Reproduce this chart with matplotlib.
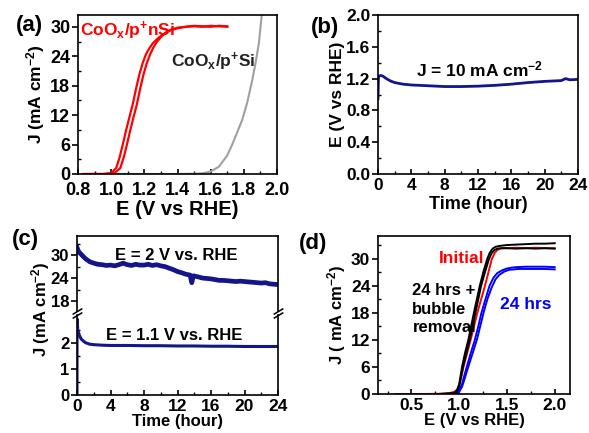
import numpy as np
import matplotlib
matplotlib.use('Agg')
import matplotlib.pyplot as plt
from matplotlib.ticker import MultipleLocator, FixedLocator

plt.rcParams['font.family'] = ['Liberation Sans', 'DejaVu Sans']
plt.rcParams['font.weight'] = 'bold'
plt.rcParams['axes.labelweight'] = 'bold'
plt.rcParams['mathtext.fontset'] = 'custom'
plt.rcParams['mathtext.rm'] = 'Liberation Sans:bold'
plt.rcParams['mathtext.it'] = 'Liberation Sans:bold'
plt.rcParams['mathtext.bf'] = 'Liberation Sans:bold'
plt.rcParams['mathtext.default'] = 'rm'
plt.rcParams['font.size'] = 12
plt.rcParams['axes.linewidth'] = 1.2

# (a) LSV curves
a_nsi_E1 = [0.83, 0.95, 1.0, 1.03, 1.05, 1.07, 1.09, 1.11, 1.13, 1.15, 1.17, 1.19, 1.21, 1.23,
            1.25, 1.28, 1.31, 1.35, 1.4, 1.45, 1.5, 1.55, 1.6, 1.65, 1.7]
a_nsi_J1 = [0, 0, 0.2, 1.2, 3.3, 6.0, 8.9, 11.6, 14.2, 17.4, 20.3, 22.6, 24.4, 25.6,
            26.6, 27.6, 28.4, 29.2, 29.7, 30.0, 30.1, 30.0, 30.2, 30.1, 30.0]
a_nsi_E2 = [0.85, 0.97, 1.02, 1.055, 1.075, 1.095, 1.115, 1.135, 1.155, 1.175, 1.195, 1.215,
            1.235, 1.255, 1.275, 1.3, 1.33, 1.36, 1.4, 1.45, 1.5, 1.55, 1.6, 1.65, 1.7]
a_nsi_J2 = [0, 0, 0.2, 1.2, 3.3, 6.0, 8.9, 11.6, 14.2, 17.4, 20.3, 22.6,
            24.4, 25.8, 26.9, 27.9, 28.8, 29.4, 29.8, 30.0, 30.2, 30.1, 30.0, 30.2, 30.1]
a_si_E = [1.0, 1.2, 1.4, 1.5, 1.55, 1.6, 1.65, 1.7, 1.73, 1.76, 1.79, 1.82, 1.85, 1.87, 1.89, 1.91]
a_si_J = [0, 0, 0, 0.05, 0.15, 0.5, 1.5, 3.8, 6.0, 8.5, 11.0, 14.5, 19.0, 22.5, 26.5, 33.0]

# (b) chronopotentiometry
b_t = [0, 0.05, 0.1, 0.3, 0.6, 1.0, 1.5, 2, 3, 4, 5, 6, 8, 10, 12, 14, 16, 18, 20, 22,
       22.5, 23, 24]
b_E = [0.95, 1.2, 1.23, 1.24, 1.23, 1.2, 1.17, 1.15, 1.13, 1.12, 1.115, 1.11, 1.1, 1.1,
       1.105, 1.115, 1.13, 1.15, 1.165, 1.175, 1.2, 1.185, 1.19]

# (c) chronoamperometry
c_top_t = [0, 0.2, 0.5, 1, 1.5, 2, 2.5, 3, 3.5, 4, 4.5, 5, 5.5, 6, 6.5, 7, 7.5, 8, 8.5, 9,
           9.5, 10, 10.5, 11, 11.5, 12, 12.5, 13, 13.5, 13.7, 13.9, 14.5, 15, 15.5, 16,
           16.5, 17, 17.5, 18, 18.5, 19, 19.5, 20, 20.5, 21, 21.5, 22, 22.5, 23, 23.5, 24]
c_top_J = [32.0, 30.9, 30.2, 29.1, 28.3, 27.9, 27.6, 27.5, 27.3, 27.4, 27.2, 27.5, 27.9,
           27.5, 27.3, 27.6, 27.4, 27.4, 27.6, 27.3, 27.5, 27.2, 27.0, 26.6, 26.2, 25.7,
           25.4, 25.0, 24.8, 22.8, 24.6, 24.3, 24.0, 23.9, 23.8, 23.6, 23.4, 23.4, 23.3,
           23.2, 23.1, 23.2, 23.1, 23.0, 22.9, 22.8, 22.7, 22.8, 22.5, 22.4, 22.3]
c_bot_t = [0, 0, 0.05, 0.1, 0.3, 0.5, 0.8, 1, 1.5, 2, 3, 4, 6, 8, 10, 12, 14, 16, 18, 20, 22, 24]
c_bot_J = [0, 2.95, 2.7, 2.5, 2.3, 2.17, 2.08, 2.03, 1.97, 1.95, 1.93, 1.92, 1.92, 1.91,
           1.91, 1.9, 1.9, 1.89, 1.89, 1.88, 1.88, 1.88]

# (d) LSV before / after
d_red_E = [0.33, 0.6, 0.8, 0.9, 0.95, 0.98, 1.0, 1.02, 1.045, 1.08, 1.12, 1.16, 1.19, 1.23,
           1.27, 1.31, 1.34, 1.37, 1.4, 1.43, 1.46, 1.5, 1.6, 1.7, 1.8, 1.9, 2.0]
d_red_J = [0, 0, 0.05, 0.2, 0.5, 1.0, 1.8, 3.5, 6.0, 8.8, 12.0, 15.4, 18.0, 21.0,
           24.0, 27.3, 29.8, 31.2, 31.9, 32.2, 32.3, 32.3, 32.4, 32.3, 32.4, 32.3, 32.3]
d_bk1_E = [0.78, 0.85, 0.9, 0.96, 0.98, 1.0, 1.03, 1.06, 1.096, 1.125, 1.154, 1.185, 1.216,
           1.255, 1.295, 1.32, 1.35, 1.38, 1.42, 1.5, 1.6, 1.7, 1.8, 1.9, 2.0]
d_bk1_J = [0, 0.05, 0.1, 0.3, 1.0, 2.2, 6.0, 9.0, 12.0, 15.0, 18.0, 21.0, 24.0,
           27.2, 30.0, 31.3, 32.2, 32.6, 32.8, 33.0, 33.1, 33.2, 33.3, 33.3, 33.4]
d_bk2_E = [0.78, 0.85, 0.9, 0.96, 0.98, 1.0, 1.04, 1.075, 1.11, 1.14, 1.17, 1.2, 1.23,
           1.27, 1.31, 1.34, 1.37, 1.4, 1.44, 1.5, 1.6, 1.7, 1.8, 1.9, 2.0]
d_bk2_J = [0, 0.05, 0.1, 0.3, 0.8, 1.8, 6.0, 9.0, 12.0, 15.0, 18.0, 21.0, 24.0,
           27.0, 29.8, 31.2, 31.9, 32.2, 32.3, 32.3, 32.2, 32.3, 32.2, 32.3, 32.2]
d_bl1_E = [0.95, 0.98, 1.0, 1.03, 1.05, 1.079, 1.12, 1.164, 1.2, 1.233, 1.275, 1.318, 1.36,
           1.4, 1.45, 1.5, 1.55, 1.6, 1.7, 1.8, 1.9, 2.0]
d_bl1_J = [0, 0.3, 0.8, 2.2, 3.8, 6.0, 9.0, 12.0, 15.0, 18.0, 21.0, 24.0, 25.8,
           26.8, 27.4, 27.8, 28.0, 28.1, 28.2, 28.2, 28.2, 28.1]
d_bl2_E = [0.95, 0.98, 1.0, 1.03, 1.06, 1.095, 1.14, 1.185, 1.22, 1.255, 1.295, 1.34, 1.38,
           1.42, 1.47, 1.52, 1.57, 1.62, 1.7, 1.8, 1.9, 2.0]
d_bl2_J = [0, 0.2, 0.5, 1.6, 3.6, 6.0, 9.0, 12.0, 15.0, 18.0, 21.0, 23.6, 25.4,
           26.4, 27.1, 27.5, 27.6, 27.7, 27.7, 27.7, 27.7, 27.6]

navy = '#14148c'

fig = plt.figure(figsize=(5.89, 4.33), dpi=100)
W, H = 589.0, 433.0


def box(l, t, r, b):
    return [l / W, 1 - b / H, (r - l) / W, (b - t) / H]


def style(ax, size, xpad=3):
    ax.tick_params(axis='y', which='major', direction='out', length=4, width=1.2, pad=1.5,
                   labelsize=size, right=False)
    ax.tick_params(axis='x', which='major', direction='in', length=3.5, width=1.2, pad=xpad,
                   labelsize=size, top=False)
    ax.tick_params(which='minor', direction='in', length=2.5, width=1.0, top=False, right=False)


# ---- (a)
ax = fig.add_axes(box(78, 15, 277, 174))
ax.plot(a_si_E, a_si_J, color='#a0a0a0', lw=1.5)
ax.plot(a_nsi_E1, a_nsi_J1, color='red', lw=1.6)
ax.plot(a_nsi_E2, a_nsi_J2, color='red', lw=1.6)
ax.set_xlim(0.8, 2.0)
ax.set_ylim(0, 32.4)
ax.xaxis.set_major_locator(MultipleLocator(0.2))
ax.xaxis.set_minor_locator(MultipleLocator(0.1))
ax.yaxis.set_major_locator(MultipleLocator(6))
ax.yaxis.set_minor_locator(MultipleLocator(3))
ax.set_xlabel('E (V vs RHE)', labelpad=1, fontsize=14.5)
ax.set_ylabel('J (mA cm$^{-2}$)', labelpad=2, fontsize=12.5)
ax.text(0.81, 29.2, 'CoO$_{x}$/p$^{+}$nSi', color='red', va='center', fontsize=12.5)
ax.text(1.36, 22.9, 'CoO$_{x}$/p$^{+}$Si', color='#222222', va='center', fontsize=12.5)
style(ax, 13, xpad=5.5)

# ---- (b)
ax = fig.add_axes(box(378, 15, 578, 174))
ax.plot(b_t, b_E, color=navy, lw=2)
ax.set_xlim(0, 24)
ax.set_ylim(0, 2.0)
ax.xaxis.set_major_locator(MultipleLocator(4))
ax.xaxis.set_minor_locator(MultipleLocator(2))
ax.yaxis.set_major_locator(MultipleLocator(0.4))
ax.yaxis.set_minor_locator(MultipleLocator(0.2))
ax.set_xlabel('Time (hour)', labelpad=2, fontsize=13)
ax.set_ylabel('E (V vs RHE)', labelpad=0.5, fontsize=12.5)
ax.text(12.2, 1.31, 'J = 10 mA cm$^{-2}$', ha='center', va='center', fontsize=12.5)
style(ax, 12.5)

# ---- (c) broken axis
axt = fig.add_axes(box(77, 236, 278, 311))
axb = fig.add_axes(box(77, 315, 278, 395))
axt.plot(c_top_t, c_top_J, color=navy, lw=3.4)
axb.plot(c_bot_t, c_bot_J, color=navy, lw=2.2)
for a in (axt, axb):
    a.set_xlim(0, 24)
    a.xaxis.set_major_locator(MultipleLocator(4))
    a.xaxis.set_minor_locator(MultipleLocator(2))
    style(a, 12)
axt.set_ylim(15.4, 35)
axt.yaxis.set_major_locator(FixedLocator([18, 24, 30]))
axt.yaxis.set_minor_locator(FixedLocator([21, 27, 33]))
axb.set_ylim(0, 3.1)
axb.yaxis.set_major_locator(FixedLocator([0, 1, 2]))
axb.yaxis.set_minor_locator(FixedLocator([0.5, 1.5, 2.5]))
axb.tick_params(axis='x', labelsize=12.5)
axt.spines['bottom'].set_visible(False)
axb.spines['top'].set_visible(False)
axt.tick_params(which='both', bottom=False, labelbottom=False)
axb.set_xlabel('Time (hour)', labelpad=0, fontsize=12)
kw = dict(marker=[(-1, -0.6), (1, 0.6)], markersize=7, linestyle='none',
          color='k', mec='k', mew=1.1, clip_on=False)
axt.plot([0, 1], [0, 0], transform=axt.transAxes, **kw)
axb.plot([0, 1], [1, 1], transform=axb.transAxes, **kw)
axt.text(11.9, 29.8, 'E = 2 V vs. RHE', ha='center', va='center', fontsize=12)
axb.text(11.6, 2.3, 'E = 1.1 V vs. RHE', ha='center', va='center', fontsize=12)
fig.text(41 / W, 1 - 309 / H, 'J (mA cm$^{-2}$)', rotation=90, ha='center', va='center',
         fontsize=12)

# ---- (d)
ax = fig.add_axes(box(378, 236, 570, 394))
ax.plot(d_red_E, d_red_J, color='red', lw=1.4)
ax.plot(d_bl1_E, d_bl1_J, color='blue', lw=1.4)
ax.plot(d_bl2_E, d_bl2_J, color='blue', lw=1.4)
ax.plot(d_bk1_E, d_bk1_J, color='black', lw=1.4)
ax.plot(d_bk2_E, d_bk2_J, color='black', lw=1.4)
ax.set_xlim(0.15, 2.16)
ax.set_ylim(0, 35)
ax.xaxis.set_major_locator(MultipleLocator(0.5))
ax.xaxis.set_minor_locator(MultipleLocator(0.25))
ax.yaxis.set_major_locator(MultipleLocator(6))
ax.yaxis.set_minor_locator(MultipleLocator(3))
ax.set_xlabel('E (V vs RHE)', labelpad=0, fontsize=12)
ax.set_ylabel('J ( mA cm$^{-2}$)', labelpad=2, fontsize=12)
ax.text(1.03, 30.0, 'Initial', color='red', ha='center', va='center', fontsize=12.5)
ax.text(1.70, 19.9, '24 hrs', color='blue', ha='center', va='center', fontsize=12.5)
ax.text(0.51, 18.8, '24 hrs +\nbubble\nremoval', color='black', ha='left', va='center',
        linespacing=1.3, fontsize=12)
style(ax, 12.5)

# panel letters
for lbl, x, y in (('(a)', 16, 26), ('(b)', 311, 27), ('(c)', 12, 240), ('(d)', 299, 243)):
    fig.text(x / W, 1 - y / H, lbl, fontsize=16, va='center', ha='left')

fig.savefig('out.png', dpi=100)
